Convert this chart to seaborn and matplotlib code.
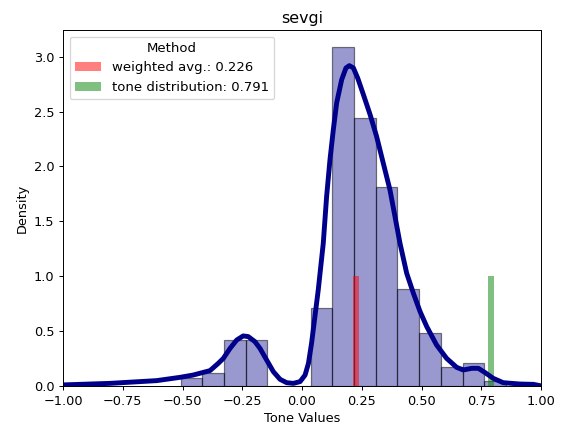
import matplotlib
matplotlib.use("Agg")
import matplotlib.pyplot as plt
import numpy as np
import pandas as pd
import seaborn as sns

# histogram (density)
bin_edges = [-0.508, -0.417, -0.327, -0.236, -0.145, -0.055, 0.036, 0.127,
             0.218, 0.308, 0.399, 0.490, 0.581, 0.672, 0.762, 0.853]
bin_density = [0.07, 0.115, 0.418, 0.416, 0.0, 0.0, 0.708, 3.088,
               2.438, 1.809, 0.888, 0.48, 0.17, 0.207, 0.046]

# kde curve
kde_x = [-1.013, -0.803, -0.608, -0.510, -0.455, -0.385, -0.350, -0.329,
         -0.301, -0.273, -0.246, -0.225, -0.197, -0.176, -0.148, -0.120,
         -0.092, -0.064, -0.036, -0.008, 0.013, 0.027, 0.040, 0.054, 0.068,
         0.089, 0.103, 0.117, 0.131, 0.145, 0.166, 0.184, 0.198, 0.215,
         0.233, 0.257, 0.285, 0.312, 0.340, 0.368, 0.389, 0.410, 0.438,
         0.466, 0.494, 0.522, 0.563, 0.605, 0.647, 0.675, 0.710, 0.738,
         0.766, 0.800, 0.842, 0.912, 0.968, 1.003]
kde_y = [0.009, 0.024, 0.049, 0.079, 0.10, 0.14, 0.207, 0.252,
         0.343, 0.419, 0.456, 0.45, 0.404, 0.343, 0.237, 0.131,
         0.061, 0.030, 0.024, 0.040, 0.100, 0.207, 0.389, 0.632, 0.875,
         1.30, 1.726, 2.06, 2.334, 2.578, 2.79, 2.897, 2.918, 2.897,
         2.805, 2.653, 2.471, 2.274, 2.03, 1.787, 1.544, 1.30, 1.027,
         0.845, 0.678, 0.541, 0.374, 0.252, 0.170, 0.146, 0.161, 0.161,
         0.122, 0.070, 0.030, 0.018, 0.015, 0.0]

methods = ["weighted avg.", "tone distribution"]
method_values = [0.226, 0.791]
method_colors = ["red", "green"]

centers = [(a + b) / 2 for a, b in zip(bin_edges[:-1], bin_edges[1:])]
df = pd.DataFrame({"x": centers, "w": bin_density})

fig, ax = plt.subplots(figsize=(562 / 88, 427 / 88), dpi=88)
sns.histplot(data=df, x="x", weights="w", bins=bin_edges, stat="count",
             color="darkblue", alpha=0.4, edgecolor=(0, 0, 0, 0.5),
             linewidth=1, ax=ax)
sns.lineplot(x=kde_x, y=kde_y, color="darkblue", linewidth=4, ax=ax)

for name, val, col in zip(methods, method_values, method_colors):
    ax.bar(val, 1, width=0.028, color=col, alpha=0.5, label=f"{name}: {val}")

ax.set_xlim(-1, 1)
ax.set_title("sevgi", fontsize=13)
ax.set_xlabel("Tone Values", fontsize=10.5)
ax.set_ylabel("Density", fontsize=10.5)
ax.tick_params(labelsize=10.5)
ax.legend(title="Method", loc="upper left", fontsize=10.8, title_fontsize=10.8)

fig.subplots_adjust(left=63 / 562, right=541 / 562, top=1 - 30 / 427, bottom=1 - 386 / 427)
fig.savefig("out.png", dpi=88)
